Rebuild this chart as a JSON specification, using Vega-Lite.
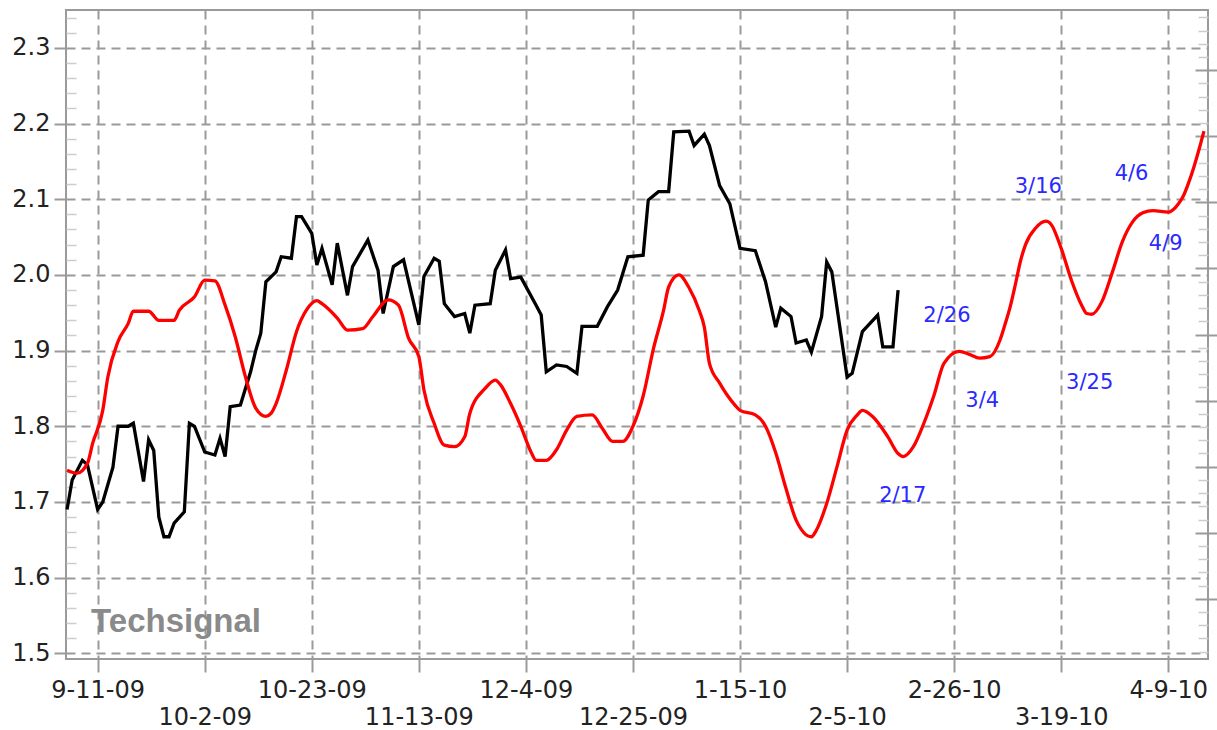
{
  "$schema": "https://vega.github.io/schema/vega-lite/v6.json",
  "width": 1142,
  "height": 649,
  "autosize": {"type": "none"},
  "padding": {"left": 66, "top": 10, "right": 9, "bottom": 71},
  "background": "white",
  "config": {"view": {"stroke": "#9a9a9a", "strokeWidth": 2}},
  "datasets": {
    "black": [
      {"date": "2009-09-05", "v": 1.690}, {"date": "2009-09-06", "v": 1.729}, {"date": "2009-09-08", "v": 1.755},
      {"date": "2009-09-09", "v": 1.749}, {"date": "2009-09-11", "v": 1.690}, {"date": "2009-09-12", "v": 1.700},
      {"date": "2009-09-14", "v": 1.746}, {"date": "2009-09-15", "v": 1.800}, {"date": "2009-09-17", "v": 1.800},
      {"date": "2009-09-18", "v": 1.804}, {"date": "2009-09-20", "v": 1.727}, {"date": "2009-09-21", "v": 1.782},
      {"date": "2009-09-22", "v": 1.768}, {"date": "2009-09-23", "v": 1.680}, {"date": "2009-09-24", "v": 1.654},
      {"date": "2009-09-25", "v": 1.654}, {"date": "2009-09-26", "v": 1.672}, {"date": "2009-09-28", "v": 1.687},
      {"date": "2009-09-29", "v": 1.804}, {"date": "2009-09-30", "v": 1.800}, {"date": "2009-10-02", "v": 1.766},
      {"date": "2009-10-04", "v": 1.762}, {"date": "2009-10-05", "v": 1.784}, {"date": "2009-10-06", "v": 1.760},
      {"date": "2009-10-07", "v": 1.826}, {"date": "2009-10-09", "v": 1.828}, {"date": "2009-10-11", "v": 1.872},
      {"date": "2009-10-12", "v": 1.900}, {"date": "2009-10-13", "v": 1.923}, {"date": "2009-10-14", "v": 1.991},
      {"date": "2009-10-16", "v": 2.004}, {"date": "2009-10-17", "v": 2.024}, {"date": "2009-10-19", "v": 2.022},
      {"date": "2009-10-20", "v": 2.077}, {"date": "2009-10-21", "v": 2.077}, {"date": "2009-10-23", "v": 2.055},
      {"date": "2009-10-24", "v": 2.013}, {"date": "2009-10-25", "v": 2.035}, {"date": "2009-10-27", "v": 1.987},
      {"date": "2009-10-28", "v": 2.042}, {"date": "2009-10-30", "v": 1.973}, {"date": "2009-10-31", "v": 2.011},
      {"date": "2009-11-03", "v": 2.046}, {"date": "2009-11-05", "v": 2.006}, {"date": "2009-11-06", "v": 1.949},
      {"date": "2009-11-08", "v": 2.011}, {"date": "2009-11-10", "v": 2.020}, {"date": "2009-11-13", "v": 1.934},
      {"date": "2009-11-14", "v": 1.998}, {"date": "2009-11-16", "v": 2.022}, {"date": "2009-11-17", "v": 2.018},
      {"date": "2009-11-18", "v": 1.962}, {"date": "2009-11-20", "v": 1.945}, {"date": "2009-11-22", "v": 1.949},
      {"date": "2009-11-23", "v": 1.923}, {"date": "2009-11-24", "v": 1.960}, {"date": "2009-11-27", "v": 1.962},
      {"date": "2009-11-28", "v": 2.006}, {"date": "2009-11-30", "v": 2.033}, {"date": "2009-12-01", "v": 1.995},
      {"date": "2009-12-03", "v": 1.997}, {"date": "2009-12-06", "v": 1.960}, {"date": "2009-12-07", "v": 1.947},
      {"date": "2009-12-08", "v": 1.872}, {"date": "2009-12-10", "v": 1.881}, {"date": "2009-12-12", "v": 1.879},
      {"date": "2009-12-14", "v": 1.870}, {"date": "2009-12-15", "v": 1.932}, {"date": "2009-12-18", "v": 1.932},
      {"date": "2009-12-20", "v": 1.958}, {"date": "2009-12-22", "v": 1.980}, {"date": "2009-12-24", "v": 2.024},
      {"date": "2009-12-27", "v": 2.026}, {"date": "2009-12-28", "v": 2.099}, {"date": "2009-12-30", "v": 2.110},
      {"date": "2010-01-01", "v": 2.110}, {"date": "2010-01-02", "v": 2.189}, {"date": "2010-01-05", "v": 2.190},
      {"date": "2010-01-06", "v": 2.171}, {"date": "2010-01-08", "v": 2.186}, {"date": "2010-01-09", "v": 2.171},
      {"date": "2010-01-11", "v": 2.118}, {"date": "2010-01-13", "v": 2.094}, {"date": "2010-01-15", "v": 2.035},
      {"date": "2010-01-18", "v": 2.032}, {"date": "2010-01-20", "v": 1.991}, {"date": "2010-01-22", "v": 1.931},
      {"date": "2010-01-23", "v": 1.956}, {"date": "2010-01-25", "v": 1.945}, {"date": "2010-01-26", "v": 1.910},
      {"date": "2010-01-28", "v": 1.914}, {"date": "2010-01-29", "v": 1.898}, {"date": "2010-01-31", "v": 1.945},
      {"date": "2010-02-01", "v": 2.017}, {"date": "2010-02-02", "v": 2.004}, {"date": "2010-02-05", "v": 1.865},
      {"date": "2010-02-06", "v": 1.870}, {"date": "2010-02-08", "v": 1.925}, {"date": "2010-02-11", "v": 1.947},
      {"date": "2010-02-12", "v": 1.905}, {"date": "2010-02-14", "v": 1.905}, {"date": "2010-02-15", "v": 1.980}
    ],
    "red": [
      {"date": "2009-09-05", "v": 1.742}, {"date": "2009-09-07", "v": 1.738}, {"date": "2009-09-09", "v": 1.751},
      {"date": "2009-09-10", "v": 1.777}, {"date": "2009-09-12", "v": 1.821}, {"date": "2009-09-13", "v": 1.865},
      {"date": "2009-09-15", "v": 1.912}, {"date": "2009-09-17", "v": 1.936}, {"date": "2009-09-18", "v": 1.952},
      {"date": "2009-09-21", "v": 1.952}, {"date": "2009-09-23", "v": 1.940}, {"date": "2009-09-26", "v": 1.940},
      {"date": "2009-09-27", "v": 1.953}, {"date": "2009-09-30", "v": 1.971}, {"date": "2009-10-02", "v": 1.993},
      {"date": "2009-10-04", "v": 1.992}, {"date": "2009-10-06", "v": 1.960}, {"date": "2009-10-08", "v": 1.918},
      {"date": "2009-10-10", "v": 1.865}, {"date": "2009-10-12", "v": 1.824}, {"date": "2009-10-14", "v": 1.813},
      {"date": "2009-10-15", "v": 1.817}, {"date": "2009-10-16", "v": 1.830}, {"date": "2009-10-18", "v": 1.874},
      {"date": "2009-10-20", "v": 1.925}, {"date": "2009-10-22", "v": 1.954}, {"date": "2009-10-24", "v": 1.966},
      {"date": "2009-10-25", "v": 1.962}, {"date": "2009-10-28", "v": 1.943}, {"date": "2009-10-30", "v": 1.927},
      {"date": "2009-11-02", "v": 1.929}, {"date": "2009-11-04", "v": 1.945}, {"date": "2009-11-07", "v": 1.967},
      {"date": "2009-11-09", "v": 1.960}, {"date": "2009-11-11", "v": 1.916}, {"date": "2009-11-13", "v": 1.892},
      {"date": "2009-11-14", "v": 1.848}, {"date": "2009-11-16", "v": 1.804}, {"date": "2009-11-18", "v": 1.775},
      {"date": "2009-11-20", "v": 1.773}, {"date": "2009-11-22", "v": 1.786}, {"date": "2009-11-23", "v": 1.817},
      {"date": "2009-11-26", "v": 1.850}, {"date": "2009-11-28", "v": 1.861}, {"date": "2009-11-29", "v": 1.855},
      {"date": "2009-12-01", "v": 1.830}, {"date": "2009-12-03", "v": 1.800}, {"date": "2009-12-05", "v": 1.766},
      {"date": "2009-12-06", "v": 1.755}, {"date": "2009-12-08", "v": 1.755}, {"date": "2009-12-10", "v": 1.769},
      {"date": "2009-12-12", "v": 1.795}, {"date": "2009-12-14", "v": 1.813}, {"date": "2009-12-17", "v": 1.815},
      {"date": "2009-12-19", "v": 1.797}, {"date": "2009-12-21", "v": 1.780}, {"date": "2009-12-23", "v": 1.780},
      {"date": "2009-12-25", "v": 1.800}, {"date": "2009-12-27", "v": 1.840}, {"date": "2009-12-29", "v": 1.902},
      {"date": "2009-12-31", "v": 1.953}, {"date": "2010-01-01", "v": 1.984}, {"date": "2010-01-03", "v": 2.000},
      {"date": "2010-01-05", "v": 1.983}, {"date": "2010-01-07", "v": 1.953}, {"date": "2010-01-08", "v": 1.931},
      {"date": "2010-01-09", "v": 1.883}, {"date": "2010-01-11", "v": 1.857}, {"date": "2010-01-14", "v": 1.828},
      {"date": "2010-01-15", "v": 1.821}, {"date": "2010-01-18", "v": 1.815}, {"date": "2010-01-20", "v": 1.800},
      {"date": "2010-01-22", "v": 1.765}, {"date": "2010-01-24", "v": 1.718}, {"date": "2010-01-26", "v": 1.676},
      {"date": "2010-01-29", "v": 1.654}, {"date": "2010-01-30", "v": 1.663}, {"date": "2010-02-01", "v": 1.698},
      {"date": "2010-02-03", "v": 1.746}, {"date": "2010-02-05", "v": 1.795}, {"date": "2010-02-07", "v": 1.815},
      {"date": "2010-02-08", "v": 1.821}, {"date": "2010-02-10", "v": 1.813}, {"date": "2010-02-13", "v": 1.786},
      {"date": "2010-02-15", "v": 1.764}, {"date": "2010-02-16", "v": 1.760}, {"date": "2010-02-18", "v": 1.773},
      {"date": "2010-02-20", "v": 1.803}, {"date": "2010-02-22", "v": 1.840}, {"date": "2010-02-24", "v": 1.883},
      {"date": "2010-02-27", "v": 1.899}, {"date": "2010-03-01", "v": 1.895}, {"date": "2010-03-03", "v": 1.890},
      {"date": "2010-03-05", "v": 1.892}, {"date": "2010-03-07", "v": 1.914}, {"date": "2010-03-08", "v": 1.935},
      {"date": "2010-03-09", "v": 1.958}, {"date": "2010-03-10", "v": 1.987}, {"date": "2010-03-11", "v": 2.018},
      {"date": "2010-03-12", "v": 2.040}, {"date": "2010-03-14", "v": 2.062}, {"date": "2010-03-16", "v": 2.071},
      {"date": "2010-03-17", "v": 2.067}, {"date": "2010-03-19", "v": 2.035}, {"date": "2010-03-21", "v": 1.993},
      {"date": "2010-03-23", "v": 1.960}, {"date": "2010-03-24", "v": 1.949}, {"date": "2010-03-25", "v": 1.948},
      {"date": "2010-03-27", "v": 1.965}, {"date": "2010-03-29", "v": 2.003}, {"date": "2010-03-31", "v": 2.044},
      {"date": "2010-04-02", "v": 2.070}, {"date": "2010-04-04", "v": 2.082}, {"date": "2010-04-06", "v": 2.085},
      {"date": "2010-04-09", "v": 2.083}, {"date": "2010-04-11", "v": 2.094}, {"date": "2010-04-12", "v": 2.105},
      {"date": "2010-04-13", "v": 2.122}, {"date": "2010-04-14", "v": 2.142}, {"date": "2010-04-15", "v": 2.165},
      {"date": "2010-04-16", "v": 2.190}
    ],
    "notes": [
      {"date": "2010-02-24T14:00:00Z", "v": 1.938, "label": "2/26"},
      {"date": "2010-03-03T12:00:00Z", "v": 1.825, "label": "3/4"},
      {"date": "2010-03-14T12:00:00Z", "v": 2.1077, "label": "3/16"},
      {"date": "2010-03-24T14:00:00Z", "v": 1.849, "label": "3/25"},
      {"date": "2010-04-01T19:00:00Z", "v": 2.125, "label": "4/6"},
      {"date": "2010-04-08T12:00:00Z", "v": 2.0328, "label": "4/9"},
      {"date": "2010-02-15T22:00:00Z", "v": 1.700, "label": "2/17"}
    ],
    "brand": [
      {"date": "2009-09-26T09:00:00Z", "v": 1.5285, "label": "Techsignal"}
    ]
  },
  "layer": [
    {
      "encoding": {
        "x": {
          "field": "date", "type": "temporal",
          "scale": {"type": "utc", "nice": false,
            "domain": [{"year": 2009, "month": 9, "date": 4, "hours": 19, "utc": true},
                       {"year": 2010, "month": 4, "date": 16, "hours": 19, "utc": true}]},
          "axis": {
            "title": null, "domain": false,
            "values": [
              {"year": 2009, "month": 9, "date": 11, "utc": true},
              {"year": 2009, "month": 10, "date": 2, "utc": true},
              {"year": 2009, "month": 10, "date": 23, "utc": true},
              {"year": 2009, "month": 11, "date": 13, "utc": true},
              {"year": 2009, "month": 12, "date": 4, "utc": true},
              {"year": 2009, "month": 12, "date": 25, "utc": true},
              {"year": 2010, "month": 1, "date": 15, "utc": true},
              {"year": 2010, "month": 2, "date": 5, "utc": true},
              {"year": 2010, "month": 2, "date": 26, "utc": true},
              {"year": 2010, "month": 3, "date": 19, "utc": true},
              {"year": 2010, "month": 4, "date": 9, "utc": true}
            ],
            "labelExpr": "round((datum.value - utc(2009, 8, 11)) / 1814400000) % 2 == 1 ? ['', utcFormat(datum.value, '%-m-%-d-%y')] : utcFormat(datum.value, '%-m-%-d-%y')",
            "labelFont": "DejaVu Sans", "labelFontSize": 24, "labelColor": "#222222",
            "labelPadding": 6, "labelLineHeight": 27, "labelOverlap": false, "labelFlush": false, "labelBound": false,
            "tickSize": 13, "tickColor": "#9a9a9a", "tickWidth": 2,
            "grid": true, "gridColor": "#9a9a9a", "gridDash": [9, 6], "gridWidth": 2
          }
        },
        "y": {
          "field": "v", "type": "quantitative",
          "scale": {"domain": [1.4925, 2.35], "nice": false, "zero": false},
          "axis": {
            "orient": "left", "title": null, "domain": false,
            "values": [1.5, 1.6, 1.7, 1.8, 1.9, 2.0, 2.1, 2.2, 2.3],
            "format": ".1f",
            "labelFont": "DejaVu Sans", "labelFontSize": 24, "labelColor": "#222222", "labelPadding": 4,
            "tickSize": 12, "tickColor": "#9a9a9a", "tickWidth": 2,
            "grid": true, "gridColor": "#9a9a9a", "gridDash": [9, 6], "gridWidth": 2
          }
        }
      },
      "layer": [
        {
          "data": {"name": "brand"},
          "mark": {"type": "text", "font": "Liberation Sans", "fontSize": 33, "fontWeight": "bold", "color": "#8a8a8a", "align": "center", "baseline": "alphabetic"},
          "encoding": {"text": {"field": "label"}}
        },
        {
          "data": {"name": "black"},
          "mark": {"type": "line", "color": "#000000", "strokeWidth": 3.3, "interpolate": "linear"}
        },
        {
          "data": {"name": "red"},
          "mark": {"type": "line", "color": "#ff0000", "strokeWidth": 3.3, "interpolate": "monotone"}
        },
        {
          "data": {"name": "notes"},
          "mark": {"type": "text", "font": "DejaVu Sans", "fontSize": 21, "color": "#2a2aff", "align": "center", "baseline": "alphabetic"},
          "encoding": {"text": {"field": "label"}}
        }
      ]
    },
    {
      "data": {"values": [{"t": 2}]},
      "mark": {"type": "rule", "opacity": 0},
      "encoding": {
        "y": {
          "field": "t", "type": "quantitative",
          "scale": {"domain": [1.4925, 2.35], "nice": false, "zero": false},
          "axis": {
            "orient": "left", "title": null, "labels": false, "domain": false, "grid": false,
            "values": [1.52, 1.54, 1.56, 1.58, 1.62, 1.64, 1.66, 1.68, 1.72, 1.74, 1.76, 1.78, 1.82, 1.84, 1.86, 1.88, 1.92, 1.94, 1.96, 1.98, 2.02, 2.04, 2.06, 2.08, 2.12, 2.14, 2.16, 2.18, 2.22, 2.24, 2.26, 2.28, 2.32, 2.34],
            "tickSize": -10, "tickColor": "#cccccc", "tickWidth": 1.5
          }
        }
      }
    },
    {
      "data": {"values": [{"t": 4}]},
      "mark": {"type": "rule", "opacity": 0},
      "encoding": {
        "y": {
          "field": "t", "type": "quantitative",
          "scale": {"domain": [-0.911, 8.911], "nice": false, "zero": false},
          "axis": {
            "orient": "right", "title": null, "labels": false, "domain": false, "grid": false,
            "values": [0, 1, 2, 3, 4, 5, 6, 7, 8],
            "tickSize": 9, "tickColor": "#9a9a9a", "tickWidth": 2
          }
        }
      }
    },
    {
      "data": {"values": [{"t": 4}]},
      "mark": {"type": "rule", "opacity": 0},
      "encoding": {
        "y": {
          "field": "t", "type": "quantitative",
          "scale": {"domain": [-0.911, 8.911], "nice": false, "zero": false},
          "axis": {
            "orient": "right", "title": null, "labels": false, "domain": false, "grid": false,
            "values": [0, 1, 2, 3, 4, 5, 6, 7, 8],
            "tickSize": -13, "tickColor": "#9a9a9a", "tickWidth": 2
          }
        }
      }
    },
    {
      "data": {"values": [{"t": 4}]},
      "mark": {"type": "rule", "opacity": 0},
      "encoding": {
        "y": {
          "field": "t", "type": "quantitative",
          "scale": {"domain": [-0.911, 8.911], "nice": false, "zero": false},
          "axis": {
            "orient": "right", "title": null, "labels": false, "domain": false, "grid": false,
            "values": [-0.8, -0.6, -0.4, -0.2, 0.2, 0.4, 0.6, 0.8, 1.2, 1.4, 1.6, 1.8, 2.2, 2.4, 2.6, 2.8, 3.2, 3.4, 3.6, 3.8, 4.2, 4.4, 4.6, 4.8, 5.2, 5.4, 5.6, 5.8, 6.2, 6.4, 6.6, 6.8, 7.2, 7.4, 7.6, 7.8, 8.2, 8.4, 8.6, 8.8],
            "tickSize": -10, "tickColor": "#cccccc", "tickWidth": 1.5
          }
        }
      }
    }
  ],
  "resolve": {"scale": {"y": "independent"}, "axis": {"y": "independent"}}
}
